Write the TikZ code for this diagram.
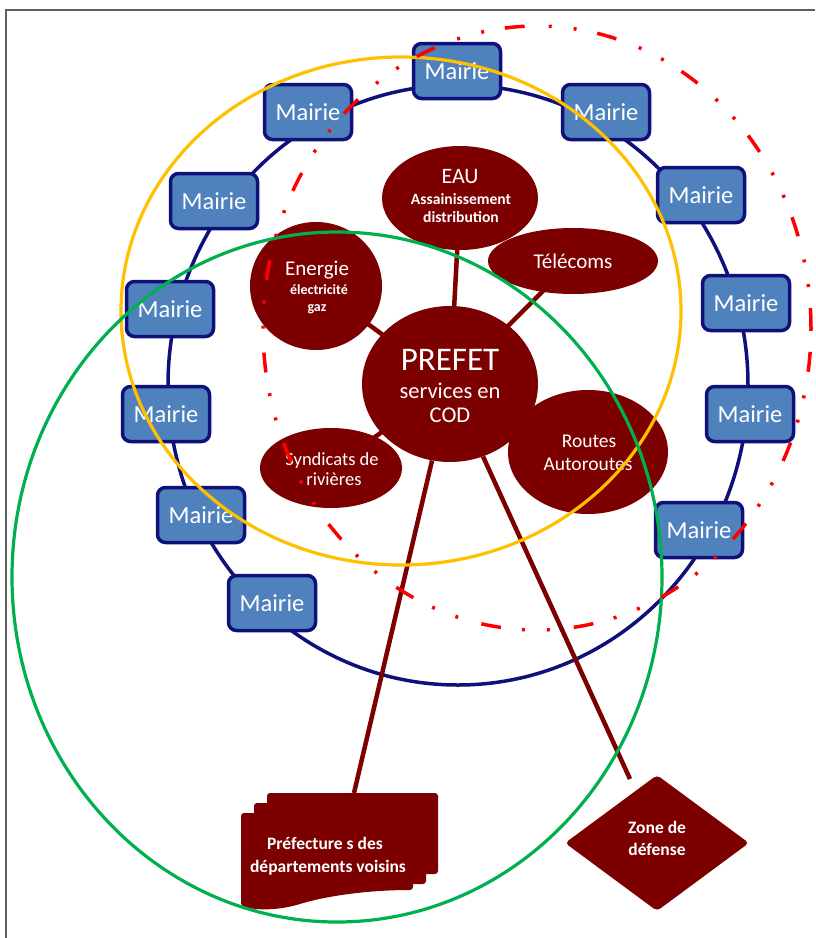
\documentclass[tikz,border=0pt]{standalone}
\usepackage{fontspec}
\setmainfont{Carlito}
\usetikzlibrary{shapes.geometric,backgrounds}
\definecolor{navyc}{RGB}{16,16,122}
\definecolor{mblue}{RGB}{79,129,189}
\definecolor{maroonc}{RGB}{125,0,0}
\definecolor{ygold}{RGB}{255,192,0}
\definecolor{grn}{RGB}{0,176,80}
\definecolor{rd}{RGB}{255,0,0}
\definecolor{framec}{RGB}{95,95,95}
\tikzset{
  mairie/.style={draw=navyc, line width=3.5pt, fill=mblue, rounded corners=8pt,
    minimum width=87pt, minimum height=55pt, inner sep=0pt, text=white,
    font=\fontsize{24.5}{24.5}\selectfont},
  blob/.style={ellipse, fill=maroonc, inner sep=0pt},
  txt/.style={text=white, inner sep=0pt, anchor=base},
  link/.style={draw=maroonc, line width=4.5pt},
  ring/.style={line width=3.2pt},
}
\begin{document}
\begin{tikzpicture}[x=1pt,y=-1pt]
\useasboundingbox (0,0) rectangle (815,938);
\begin{pgfonlayer}{background}
\fill[white] (0,0) rectangle (815,938);
\end{pgfonlayer}
% frame
\draw[framec, line width=2pt] (6,938) -- (6,10) -- (815,10);
% blue ring of mairies
\draw[navyc, line width=3.5pt] (458,385) ellipse [x radius=290pt, y radius=300pt];
% maroon shapes
\node[blob, minimum width=176pt, minimum height=156pt] (prefet) at (450,384) {};
\node[blob, minimum width=156pt, minimum height=104pt] (eau) at (460,198) {};
\node[blob, minimum width=170pt, minimum height=66pt] (tel) at (573,261) {};
\node[blob, minimum width=132pt, minimum height=128pt] (energie) at (316,286) {};
\node[blob, minimum width=142pt, minimum height=80pt] (synd) at (331,468) {};
\node[blob, minimum width=160pt, minimum height=124pt] (routes) at (588,452) {};
% texts of the maroon shapes
\node[txt, font=\fontsize{33}{33}\selectfont] (prefetA) at (450,370) {PREFET};
\node[txt, font=\fontsize{22.5}{22.5}\selectfont] (prefetB) at (450,398) {services en};
\node[txt, font=\fontsize{22.5}{22.5}\selectfont] (prefetC) at (450,422) {COD};
\node[txt, font=\fontsize{22}{22}\selectfont] (eauA) at (460,183) {EAU};
\node[txt, font=\bfseries\fontsize{15.6}{15.6}\selectfont] (eauB) at (461,204) {Assainissement};
\node[txt, font=\bfseries\fontsize{15.6}{15.6}\selectfont] (eauC) at (461,222) {distribution};
\node[txt, font=\fontsize{21}{21}\selectfont] (telA) at (573,268) {Télécoms};
\node[txt, font=\fontsize{21}{21}\selectfont] (energieA) at (317,275) {Energie};
\node[txt, font=\bfseries\fontsize{14}{14}\selectfont] (energieB) at (319,294) {électricité};
\node[txt, font=\bfseries\fontsize{14}{14}\selectfont] (energieC) at (317,311) {gaz};
\node[txt, font=\fontsize{18.5}{18.5}\selectfont] (syndA) at (332,465) {Syndicats de};
\node[txt, font=\fontsize{18.5}{18.5}\selectfont] (syndB) at (334,485) {rivières};
\node[txt, font=\fontsize{19.5}{19.5}\selectfont] (routesA) at (589,447) {Routes};
\node[txt, font=\fontsize{19.5}{19.5}\selectfont] (routesB) at (588,470) {Autoroutes};
% short connectors behind the shapes
\begin{pgfonlayer}{background}
\path[link] (prefet.center) -- (eau.center);
\path[link] (prefet.center) -- (tel.center);
\path[link] (prefet.center) -- (energie.center);
\path[link] (prefet.center) -- (synd.center);
\end{pgfonlayer}
% pages of préfectures
\fill[maroonc, rounded corners=3pt] (267,793) -- (438,793) -- (438,874) -- (267,874) -- cycle;
\fill[maroonc, rounded corners=3pt] (254,803) -- (426,803) -- (426,884) -- (254,884) -- cycle;
\fill[maroonc, rounded corners=3pt] (241,813) -- (413,813) -- (413,890)
  .. controls (360,890) and (320,898) .. (300,904) .. controls (275,911) and (255,910) .. (241,906) -- cycle;
\node[txt, font=\bfseries\fontsize{17.5}{17.5}\selectfont] (prefA) at (325,849) {Préfecture s des};
\node[txt, font=\bfseries\fontsize{17.5}{17.5}\selectfont] (prefB) at (328,872) {départements voisins};
\coordinate (prefT) at (354,793);
% zone de défense
\node[diamond, fill=maroonc, minimum width=184pt, minimum height=136pt, inner sep=0pt,
  rounded corners=4pt] (zone) at (657,843) {};
\node[txt, font=\bfseries\fontsize{17.5}{17.5}\selectfont] (zoneA) at (657,833) {Zone de};
\node[txt, font=\bfseries\fontsize{17.5}{17.5}\selectfont] (zoneB) at (657,855) {défense};
\coordinate (zoneT) at (630,779);
% long connectors
\path[link] (prefet) -- (prefT);
\path[link] (prefet) -- (zoneT);
% mairies
\node[mairie] (m1) at (457,71) {Mairie};
\node[mairie] (m2) at (308,112) {Mairie};
\node[mairie] (m3) at (214,201) {Mairie};
\node[mairie] (m4) at (170,309) {Mairie};
\node[mairie] (m5) at (166,414) {Mairie};
\node[mairie] (m6) at (201,515) {Mairie};
\node[mairie] (m7) at (272,603) {Mairie};
\node[mairie] (m8) at (606,112) {Mairie};
\node[mairie] (m9) at (701,195) {Mairie};
\node[mairie] (m10) at (746,303) {Mairie};
\node[mairie] (m11) at (750,414) {Mairie};
\node[mairie] (m12) at (699,530) {Mairie};
% overlapping rings
\draw[ygold, ring] (401,311) ellipse [x radius=280pt, y radius=254pt];
\draw[grn, ring] (337,577) ellipse [x radius=325pt, y radius=345pt];
\draw[rd, line width=3.5pt, dash pattern=on 20pt off 21pt on 3pt off 22pt on 3pt off 24pt]
  (537,328) ellipse [x radius=274pt, y radius=302pt];
\end{tikzpicture}
\end{document}
